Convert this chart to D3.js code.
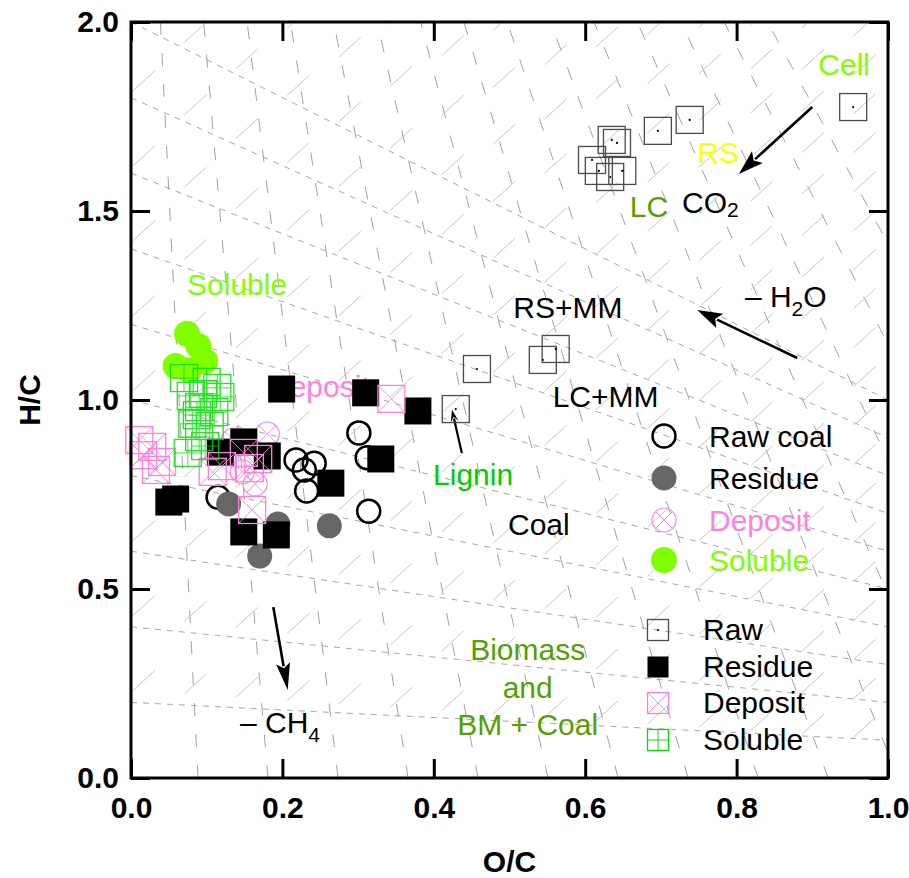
<!DOCTYPE html>
<html>
<head>
<meta charset="utf-8">
<script src="https://cdn.jsdelivr.net/npm/d3@7"></script>
<style>
  html, body { margin: 0; padding: 0; background: #fff; }
  svg { display: block; font-family: "Liberation Sans", Arial, sans-serif; }
</style>
</head>
<body>
<svg id="chart" width="909" height="878"></svg>
<script>
// ---- Atomic ratios [O/C, H/C] ----
// Biomass samples (square symbols)
const rawBiomass = [
  [0.635, 1.688], [0.642, 1.680], [0.609, 1.635], [0.618, 1.606], [0.633, 1.590],
  [0.649, 1.606], [0.696, 1.712], [0.738, 1.741], [0.954, 1.775],
  [0.457, 1.082], [0.544, 1.106], [0.561, 1.135], [0.429, 0.976]
];
const residueBiomass = [
  [0.199, 1.029], [0.310, 1.019], [0.379, 0.971], [0.149, 0.889], [0.118, 0.862],
  [0.180, 0.852], [0.264, 0.780], [0.330, 0.844], [0.149, 0.651], [0.192, 0.643],
  [0.050, 0.730], [0.059, 0.738]
];
const depositBiomass = [
  [0.344, 1.003], [0.011, 0.894], [0.016, 0.854], [0.028, 0.876], [0.041, 0.836],
  [0.033, 0.815], [0.108, 0.810], [0.120, 0.825], [0.149, 0.860], [0.168, 0.844],
  [0.157, 0.820], [0.160, 0.709]
];
const solubleBiomass = [
  [0.070, 1.058], [0.079, 1.011], [0.100, 1.048], [0.118, 1.008], [0.110, 0.968],
  [0.090, 0.981], [0.081, 0.937], [0.104, 0.931], [0.090, 0.902], [0.098, 0.878],
  [0.075, 0.860], [0.114, 1.032], [0.095, 1.016], [0.087, 0.960]
];
// Coal samples (circle symbols)
const rawCoal = [
  [0.301, 0.913], [0.312, 0.847], [0.218, 0.841], [0.242, 0.833], [0.229, 0.815],
  [0.232, 0.759], [0.115, 0.743], [0.314, 0.706]
];
const residueCoal = [[0.129, 0.725], [0.194, 0.672], [0.262, 0.667], [0.170, 0.587]];
const depositCoal = [[0.180, 0.910], [0.164, 0.778], [0.147, 0.810], [0.135, 0.894]];
const solubleCoal = [[0.074, 1.175], [0.089, 1.143], [0.098, 1.103], [0.059, 1.090], [0.077, 1.079]];

// Axis ticks
const xTicks = [0, 0.2, 0.4, 0.6, 0.8, 1.0];
const yTicks = [0, 0.5, 1.0, 1.5, 2.0];

// Legend entries
const coalLegend = ["Raw coal", "Residue", "Deposit", "Soluble"];
const biomassLegend = ["Raw", "Residue", "Deposit", "Soluble"];

// ---- Layout ----
const svg = d3.select("#chart");
const x = d3.scaleLinear().domain([0, 1]).range([131, 888]);
const y = d3.scaleLinear().domain([0, 2]).range([778, 22]);

const PINK = "#ff80e0", LIME = "#80ff00", GREEN = "#00dd00";

svg.append("defs").append("clipPath").attr("id", "plotClip")
  .append("rect").attr("x", x(0)).attr("y", y(2))
  .attr("width", x(1) - x(0)).attr("height", y(0) - y(2));

// ---- Diagram background: fan of dashed iso-lines and hatch marks ----
const bg = svg.append("g").attr("clip-path", "url(#plotClip)");

// dashed fan lines converging towards H/C = 0 at O/C = 2
const fanIntercepts = [0.2, 0.4, 0.6, 0.8, 1.0, 1.2, 1.4, 1.6, 1.8, 2.0];
bg.selectAll("line.fan").data(fanIntercepts).join("line")
  .attr("class", "fan")
  .attr("x1", x(0)).attr("y1", d => y(d))
  .attr("x2", x(1)).attr("y2", d => y(d / 2))
  .attr("stroke", "#a8a8a8").attr("stroke-width", 1)
  .attr("stroke-dasharray", "6,6");

// near-vertical dashed lines radiating from a point far above the plot
const focal = [-0.042, 5.254];
const radialFeet = d3.range(-0.004, 1.40, 0.0925);
bg.selectAll("line.radial").data(radialFeet).join("line")
  .attr("class", "radial")
  .attr("x1", d => x(d)).attr("y1", y(0))
  .attr("x2", x(focal[0])).attr("y2", y(focal[1]))
  .attr("stroke", "#a2a2a2").attr("stroke-width", 1)
  .attr("stroke-dasharray", "13,18");

// light "/" hatch marks laid along the fan rows
const hatchRows = d3.range(0.26, 3.9, 0.2);
const hatchCols = d3.range(0.017, 1.0, 0.068);
const hatch = [];
hatchRows.forEach(h => hatchCols.forEach(c => {
  const hc = h * (1 - 0.5 * c);
  if (hc < 2.06) hatch.push([c, hc]);
}));
bg.selectAll("line.hatch").data(hatch).join("line")
  .attr("class", "hatch")
  .attr("x1", d => x(d[0]) - 11).attr("y1", d => y(d[1]) + 10)
  .attr("x2", d => x(d[0]) + 11).attr("y2", d => y(d[1]) - 10)
  .attr("stroke", "#c6c6c6").attr("stroke-width", 1);

// ---- Text annotations (placed in O/C, H/C units) ----
const ann = svg.append("g").attr("font-size", 30);
function label(txt, ox, hc, color, anchor) {
  return ann.append("text").attr("x", x(ox)).attr("y", y(hc))
    .attr("fill", color || "#000").attr("text-anchor", anchor || "start").text(txt);
}
label("Cell", 0.908, 1.860, LIME);
label("RS", 0.748, 1.627, "#ffff00");
label("LC", 0.659, 1.484, "#55a000");
const co2 = label("CO", 0.728, 1.495, "#000");
co2.append("tspan").attr("font-size", 21).attr("dy", 4).text("2");
label("Soluble", 0.074, 1.278, LIME);
label("Deposit", 0.181, 1.008, PINK);
label("RS+MM", 0.505, 1.217);
const h2o = label("\u2013 H", 0.811, 1.246);
h2o.append("tspan").attr("font-size", 21).attr("dy", 9).text("2");
h2o.append("tspan").attr("dy", -9).text("O");
label("LC+MM", 0.557, 0.981);
label("Lignin", 0.399, 0.775, "#00cc00");
label("Coal", 0.498, 0.643);
label("Biomass", 0.524, 0.312, "#55a000", "middle");
label("and", 0.524, 0.212, "#55a000", "middle");
label("BM + Coal", 0.524, 0.114, "#55a000", "middle");
const ch4 = label("\u2013 CH", 0.144, 0.119);
ch4.append("tspan").attr("font-size", 21).attr("dy", 9).text("4");

// ---- Arrows (trend directions) ----
const arrows = [
  { from: [0.900, 1.775], to: [0.803, 1.598], head: 25, hw: 8, w: 2.6 },
  { from: [0.880, 1.111], to: [0.748, 1.238], head: 25, hw: 8, w: 2.6 },
  { from: [0.437, 0.860], to: [0.424, 0.974], head: 12, hw: 4, w: 2.2 },
  { from: [0.188, 0.452], to: [0.207, 0.233], head: 27, hw: 7, w: 2.6 }
];
const arrG = svg.append("g");
arrows.forEach(a => {
  const x1 = x(a.from[0]), y1 = y(a.from[1]), x2 = x(a.to[0]), y2 = y(a.to[1]);
  const L = Math.hypot(x2 - x1, y2 - y1), ux = (x2 - x1) / L, uy = (y2 - y1) / L;
  const bx = x2 - ux * a.head, by = y2 - uy * a.head;
  arrG.append("line").attr("x1", x1).attr("y1", y1)
    .attr("x2", bx + ux * 3).attr("y2", by + uy * 3)
    .attr("stroke", "#000").attr("stroke-width", a.w);
  arrG.append("path")
    .attr("d", `M${x2},${y2} L${bx - uy * a.hw},${by + ux * a.hw} L${bx + ux * 5},${by + uy * 5} L${bx + uy * a.hw},${by - ux * a.hw} Z`)
    .attr("fill", "#000");
});

// ---- Symbol painters ----
function openCircle(g) {
  g.append("circle").attr("r", 11.5).attr("fill", "none").attr("stroke", "#000").attr("stroke-width", 2.5);
}
function greyCircle(g) {
  g.append("circle").attr("r", 12.5).attr("fill", "#666");
}
function crossCircle(g) {
  g.append("circle").attr("r", 12).attr("fill", "none").attr("stroke", PINK).attr("stroke-width", 1.1);
  const k = 12 * Math.SQRT1_2;
  g.append("path").attr("d", `M${-k},${-k}L${k},${k}M${-k},${k}L${k},${-k}`)
    .attr("stroke", PINK).attr("stroke-width", 0.9);
}
function limeCircle(g, r) {
  g.append("circle").attr("r", r || 13).attr("fill", LIME);
}
function dotSquare(g, s) {
  g.append("rect").attr("x", -s / 2).attr("y", -s / 2).attr("width", s).attr("height", s)
    .attr("fill", "none").attr("stroke", "#4a4a4a").attr("stroke-width", 1.3);
  g.append("circle").attr("r", 1.1).attr("fill", "#000");
}
function blackSquare(g, s) {
  g.append("rect").attr("x", -s / 2).attr("y", -s / 2).attr("width", s).attr("height", s).attr("fill", "#000");
}
function xSquare(g, s) {
  const h = s / 2;
  g.append("rect").attr("x", -h).attr("y", -h).attr("width", s).attr("height", s)
    .attr("fill", "none").attr("stroke", PINK).attr("stroke-width", 1.3);
  g.append("path").attr("d", `M${-h},${-h}L${h},${h}M${-h},${h}L${h},${-h}`)
    .attr("stroke", PINK).attr("stroke-width", 0.9);
}
function plusSquare(g, s) {
  const h = s / 2;
  g.append("rect").attr("x", -h).attr("y", -h).attr("width", s).attr("height", s)
    .attr("fill", "none").attr("stroke", GREEN).attr("stroke-width", 1.3);
  g.append("path").attr("d", `M0,${-h}L0,${h}M${-h},0L${h},0`)
    .attr("stroke", GREEN).attr("stroke-width", 0.9);
}

function plotSeries(data, painter, size, opacity) {
  svg.append("g").attr("opacity", opacity || 1)
    .selectAll("g").data(data).join("g")
    .attr("transform", d => `translate(${x(d[0])},${y(d[1])})`)
    .each(function () { painter(d3.select(this), size); });
}

// ---- Data points ----
plotSeries(rawCoal, openCircle);
plotSeries(residueCoal, greyCircle);
plotSeries(depositCoal, crossCircle);
plotSeries(solubleCoal, limeCircle);
plotSeries(rawBiomass, dotSquare, 27);
plotSeries(residueBiomass, blackSquare, 27);
plotSeries(depositBiomass, xSquare, 27);
plotSeries(solubleBiomass, plusSquare, 27, 0.85);

// ---- Legends ----
const coalPainters = [openCircle, greyCircle, crossCircle, limeCircle];
const coalColors = ["#000", "#000", PINK, LIME];
const coalRows = [436, 478, 520, 560];
const leg1 = svg.append("g");
coalLegend.forEach((t, i) => {
  const g = leg1.append("g").attr("transform", `translate(664,${coalRows[i]})`);
  coalPainters[i](g);
  leg1.append("text").attr("x", 709).attr("y", coalRows[i] + 11)
    .attr("font-size", 30).attr("fill", coalColors[i]).text(t);
});

const bioPainters = [dotSquare, blackSquare, xSquare, plusSquare];
const bioRows = [630, 667, 703, 740];
const leg2 = svg.append("g");
biomassLegend.forEach((t, i) => {
  const g = leg2.append("g").attr("transform", `translate(658,${bioRows[i]})`);
  bioPainters[i](g, 21);
  leg2.append("text").attr("x", 703).attr("y", bioRows[i] + 10)
    .attr("font-size", 30).attr("fill", "#000").text(t);
});

// ---- Frame and axes ----
svg.append("rect").attr("x", x(0)).attr("y", y(2))
  .attr("width", x(1) - x(0)).attr("height", y(0) - y(2))
  .attr("fill", "none").attr("stroke", "#000").attr("stroke-width", 3);

function styleAxis(g) {
  g.select(".domain").remove();
  g.selectAll(".tick line").attr("stroke", "#000").attr("stroke-width", 3);
  g.selectAll(".tick text")
    .attr("font-size", 30).attr("font-weight", "bold")
    .attr("font-family", "'Liberation Sans', Arial, sans-serif").attr("fill", "#000");
}
const fmt = d3.format(".1f");
svg.append("g").attr("transform", `translate(0,${y(0)})`)
  .call(d3.axisBottom(x).tickValues(xTicks).tickSize(-19).tickPadding(19).tickFormat(fmt))
  .call(styleAxis);
svg.append("g").attr("transform", `translate(0,${y(2)})`)
  .call(d3.axisTop(x).tickValues(xTicks).tickSize(-19).tickFormat(""))
  .call(styleAxis);
svg.append("g").attr("transform", `translate(${x(0)},0)`)
  .call(d3.axisLeft(y).tickValues(yTicks).tickSize(-19).tickPadding(12).tickFormat(fmt))
  .call(styleAxis);
svg.append("g").attr("transform", `translate(${x(1)},0)`)
  .call(d3.axisRight(y).tickValues(yTicks).tickSize(-19).tickFormat(""))
  .call(styleAxis);

svg.append("text").attr("x", (x(0) + x(1)) / 2).attr("y", 872)
  .attr("text-anchor", "middle").attr("font-size", 30).attr("font-weight", "bold").text("O/C");
svg.append("text").attr("transform", `translate(40,${(y(0) + y(2)) / 2}) rotate(-90)`)
  .attr("text-anchor", "middle").attr("font-size", 30).attr("font-weight", "bold").text("H/C");
</script>
</body>
</html>
